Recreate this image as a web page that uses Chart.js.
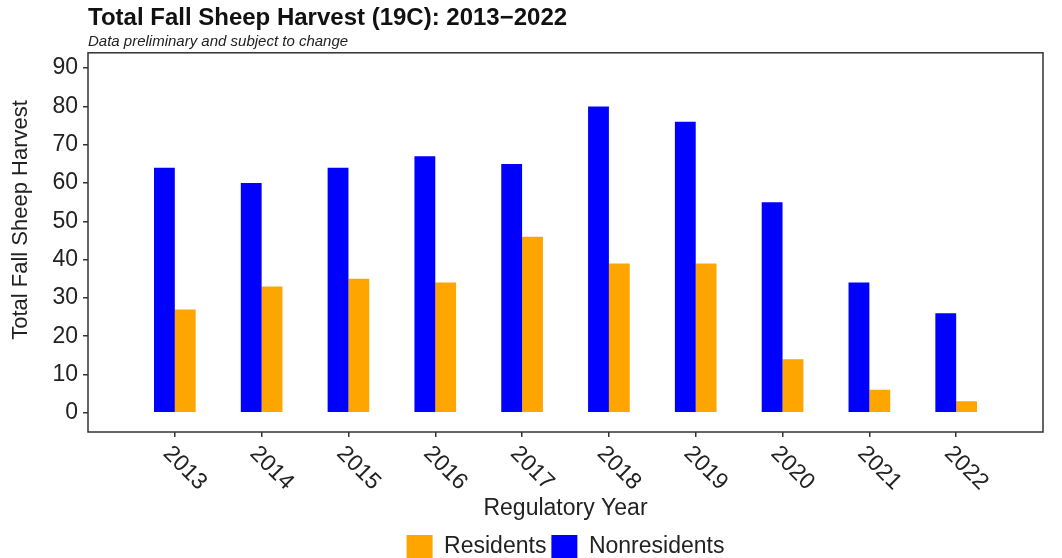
<!DOCTYPE html>
<html>
<head>
<meta charset="utf-8">
<script src="https://cdn.jsdelivr.net/npm/chart.js@4/dist/chart.umd.min.js"></script>
<style>
  html, body { margin: 0; padding: 0; background: #fff; }
  #wrap { width: 1062px; height: 558px; }
</style>
</head>
<body>
<div id="wrap"><canvas id="c"></canvas></div>
<script>
// values
var years = [2013, 2014, 2015, 2016, 2017, 2018, 2019, 2020, 2021, 2022];
var residents = [27, 33, 35, 34, 46, 39, 39, 14, 6, 3];
var nonresidents = [64, 60, 64, 67, 65, 80, 76, 55, 34, 26];

var FONT = '"Liberation Sans", Arial, sans-serif';
var INK = '#333';

// plot frame on all four sides, rotated year labels (clockwise, starting at the tick)
// and the y title, which sits a little above the middle of the plot in the original
var frameAndLabels = {
	id: 'frameAndLabels',
	afterDraw: function(chart){
		var ctx = chart.ctx;
		var a = chart.chartArea;
		ctx.save();
		ctx.strokeStyle = INK;
		ctx.lineWidth = 1.5;
		ctx.strokeRect(a.left, a.top, a.right - a.left, a.bottom - a.top);

		var xs = chart.scales.x;
		ctx.fillStyle = '#222';
		ctx.font = '23px ' + FONT;
		ctx.textAlign = 'left';
		ctx.textBaseline = 'top';
		xs.ticks.forEach(function(t){
			var px = xs.getPixelForValue(t.value);
			ctx.save();
			ctx.translate(px, a.bottom + 10);
			ctx.rotate(Math.PI / 4);
			ctx.fillText(String(t.value), 0, 0);
			ctx.restore();
		});

		ctx.save();
		ctx.font = '22px ' + FONT;
		ctx.textAlign = 'center';
		ctx.textBaseline = 'middle';
		ctx.translate(21, 220);
		ctx.rotate(-Math.PI / 2);
		ctx.fillText('Total Fall Sheep Harvest', 0, 0);
		ctx.restore();
		ctx.restore();
	}
};

new Chart(document.getElementById('c'), {
	type: 'bar',
	data: {
		datasets: [{
			label: 'Nonresidents',
			data: years.map(function(y, i){ return {x: y, y: nonresidents[i]}; }),
			backgroundColor: '#0000FF',
			borderColor: '#0000FF',
			borderWidth: 0
		}, {
			label: 'Residents',
			data: years.map(function(y, i){ return {x: y, y: residents[i]}; }),
			backgroundColor: '#FFA500',
			borderColor: '#FFA500',
			borderWidth: 0
		}]
	},
	options: {
		responsive: true,
		maintainAspectRatio: false,
		animation: false,
		datasets: { bar: { categoryPercentage: 0.48, barPercentage: 1 } },
		layout: { padding: { left: 0, right: 19, top: 0, bottom: -11 } },
		plugins: {
			title: {
				display: true,
				fullSize: false,
				align: 'start',
				text: 'Total Fall Sheep Harvest (19C): 2013\u22122022',
				color: '#111',
				font: { family: FONT, size: 24, weight: 'bold' },
				padding: { top: 4, bottom: 0 }
			},
			subtitle: {
				display: true,
				fullSize: false,
				align: 'start',
				text: 'Data preliminary and subject to change',
				color: '#222',
				font: { family: FONT, size: 15, style: 'italic' },
				padding: { top: 0, bottom: 2 }
			},
			legend: {
				position: 'bottom',
				fullSize: false,
				labels: {
					color: '#222',
					font: { family: FONT, size: 23 },
					boxWidth: 26,
					boxHeight: 24,
					padding: 5,
					sort: function(a, b){ return b.datasetIndex - a.datasetIndex; }
				}
			},
			tooltip: { enabled: false }
		},
		scales: {
			x: {
				type: 'linear',
				min: 2012,
				max: 2023,
				offset: false,
				afterBuildTicks: function(scale){
					scale.ticks = scale.ticks.filter(function(t){ return years.indexOf(t.value) >= 0; });
				},
				afterFit: function(scale){ scale.height = 98; },
				border: { display: false },
				grid: { offset: false, drawOnChartArea: false, drawTicks: true, tickLength: 5, color: INK, lineWidth: 1.5 },
				ticks: {
					stepSize: 1,
					autoSkip: false,
					color: 'rgba(0,0,0,0)',
					font: { family: FONT, size: 23 },
					callback: function(v){ return String(v); }
				},
				title: {
					display: true,
					text: 'Regulatory Year',
					color: '#222',
					font: { family: FONT, size: 23 },
					padding: { top: 0, bottom: 8 }
				}
			},
			y: {
				min: -5,
				max: 94,
				afterFit: function(scale){ scale.width = 88; },
				border: { display: false },
				grid: { drawOnChartArea: false, drawTicks: true, tickLength: 5, color: INK, lineWidth: 1.5 },
				ticks: {
					stepSize: 10,
					includeBounds: false,
					padding: 5,
					color: '#222',
					font: { family: FONT, size: 23 }
				}
			}
		}
	},
	plugins: [frameAndLabels]
});
</script>
</body>
</html>
